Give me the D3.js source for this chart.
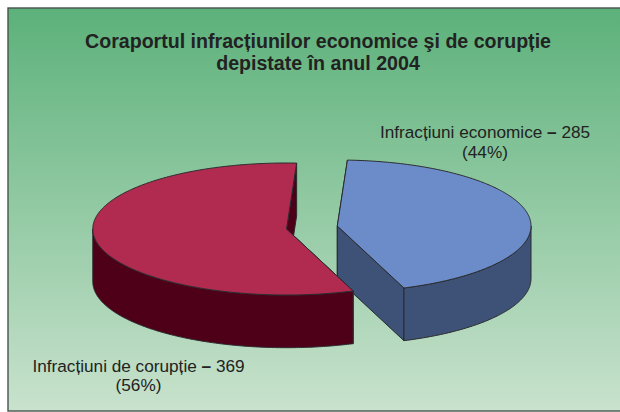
<!DOCTYPE html>
<html><head><meta charset="utf-8">
<script src="https://cdn.jsdelivr.net/npm/d3@7/dist/d3.min.js"></script>
<style>html,body{margin:0;padding:0;background:#fff}svg{display:block}text{font-family:"Liberation Sans",Arial,sans-serif;fill:#222}</style>
</head><body><svg id="c" width="620" height="412"></svg>
<script>
const categories = ["Infracțiuni economice", "Infracțiuni de corupție"];
const values = [285, 369];
const percents = ["(44%)", "(56%)"];
const titleLines = ["Coraportul infracțiunilor economice şi de corupție", "depistate în anul 2004"];
const topColors = ["#6b8cc8", "#b12a50"];
const sideColors = ["#3e5278", "#4e0018"];
const centers = [[337.3, 226], [286.5, 229]];
const labelPos = [[485, 138, 158], [138.5, 372, 391]];

const svg = d3.select("#c");
const defs = svg.append("defs");
const g = defs.append("linearGradient").attr("id","bg").attr("x1",0).attr("x2",0).attr("y1",0).attr("y2",1);
g.append("stop").attr("offset",0).attr("stop-color","#5cb17a");
g.append("stop").attr("offset",1).attr("stop-color","#c9e2cd");
svg.append("rect").attr("x",8).attr("y",8).attr("width",620).attr("height",403)
  .attr("fill","url(#bg)").attr("stroke","#46544c").attr("stroke-width",1.4);

svg.selectAll("text.t").data(titleLines).join("text").attr("class","t")
  .attr("x",318).attr("y",(d,i)=>48+i*21.5).attr("text-anchor","middle")
  .attr("font-size",19.6).attr("font-weight","bold").text(d=>d);

const rx = 193.7, ry = 66, depth = 52.7;
const arcs = d3.pie().sort(null).startAngle(3*Math.PI/180).endAngle(363*Math.PI/180)(values);
const pt = (c,a,dy=0)=>[c[0]+rx*Math.sin(a), c[1]-ry*Math.cos(a)+dy];
const line = d3.line();
const range = (a,b)=>{const n=Math.max(2,Math.ceil(Math.abs(b-a)/0.01)); return d3.range(n+1).map(i=>a+(b-a)*i/n);};
const stroke = "#2a2a2e";
const style = (s,f)=>s.attr("fill",f).attr("stroke",stroke).attr("stroke-width",1).attr("stroke-linejoin","round");

[0,1].forEach(i=>{
  const c = centers[i], a0 = arcs[i].startAngle, a1 = arcs[i].endAngle;
  const gg = svg.append("g");
  const side = sideColors[i];
  const addFace = (pts)=>style(gg.append("path").attr("d",line(pts)+"Z"),side);
  addFace([pt(c,a0),pt(c,a0,depth),[c[0],c[1]+depth],c]);
  addFace([c,[c[0],c[1]+depth],pt(c,a1,depth),pt(c,a1)]);
  const lo = Math.max(a0,Math.PI/2), hi = Math.min(a1,3*Math.PI/2);
  const rim = range(lo,hi);
  addFace(rim.map(a=>pt(c,a)).concat(rim.slice().reverse().map(a=>pt(c,a,depth))));
  const top = range(a0,a1).map(a=>pt(c,a));
  style(gg.append("path").attr("d",line([c,...top])+"Z"),topColors[i]);
});

categories.forEach((cat,i)=>{
  const p = labelPos[i];
  const t = svg.append("text").attr("x",p[0]).attr("y",p[1]).attr("text-anchor","middle").attr("font-size",17.2);
  t.append("tspan").text(cat+" ");
  t.append("tspan").attr("font-weight","bold").text("–");
  t.append("tspan").text(" "+values[i]);
  svg.append("text").attr("x",p[0]).attr("y",p[2]).attr("text-anchor","middle").attr("font-size",17.2).text(percents[i]);
});
</script></body></html>
